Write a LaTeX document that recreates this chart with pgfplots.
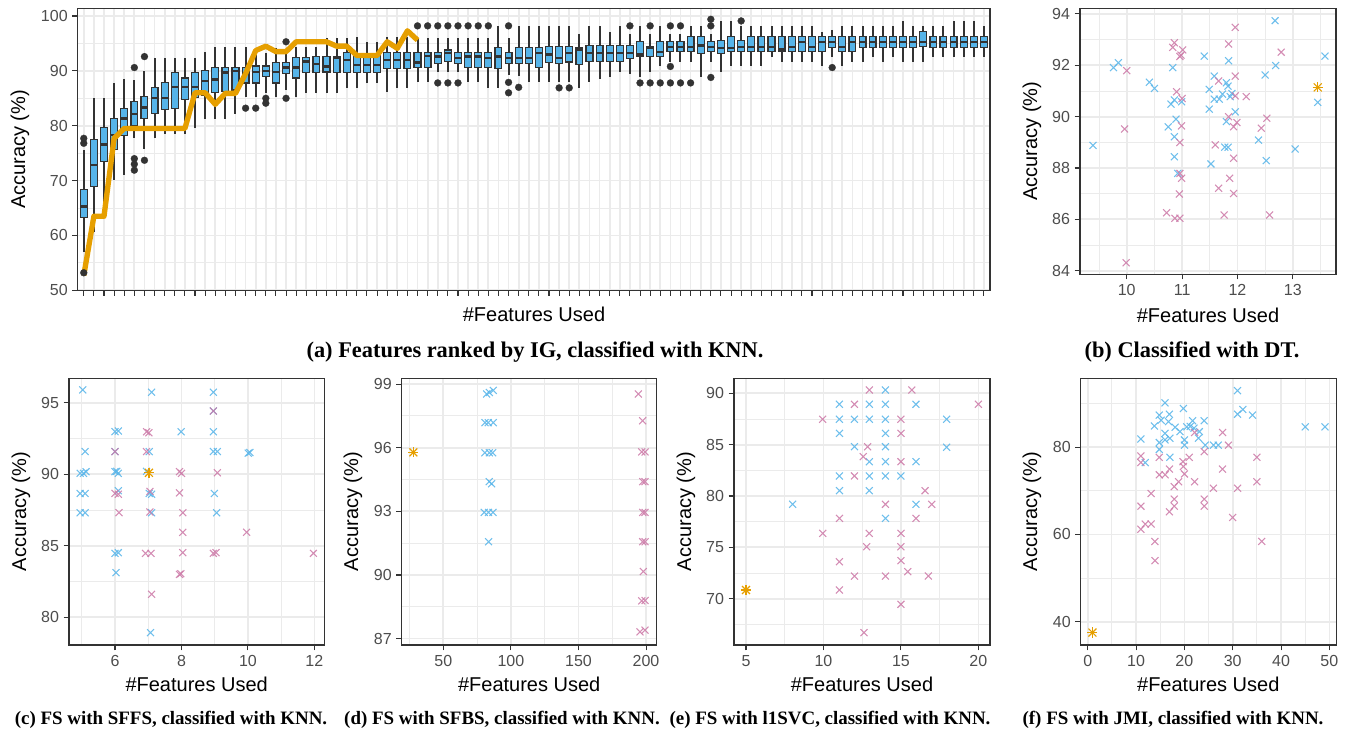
\documentclass[border=0pt]{standalone}
\usepackage{fontspec}
\setmainfont{Liberation Serif}
\setsansfont{Liberation Sans}
\usepackage{pgfplots}
\usepackage{pgfplotstable}
\pgfplotsset{compat=1.18}
\usepgfplotslibrary{statistics}
\definecolor{boxblue}{HTML}{56B4E9}
\definecolor{boxdark}{HTML}{333333}
\definecolor{gorange}{HTML}{E69F00}
\definecolor{gpink}{HTML}{CC79A7}
\definecolor{gridgray}{HTML}{EBEBEB}
\definecolor{ticklab}{HTML}{4D4D4D}

% ---------------- data ----------------
\pgfplotstableread{
x y
9.39 88.88
9.76 91.91
9.85 92.10
10.41 91.34
10.50 91.10
10.83 91.91
10.86 90.65
10.80 90.49
10.89 89.90
10.75 89.60
10.86 89.22
10.86 88.44
10.92 87.79
10.99 90.58
11.40 92.36
11.49 91.06
11.49 90.29
11.52 88.16
11.58 91.58
11.58 90.68
11.67 90.68
11.73 90.88
11.80 91.32
11.83 91.19
11.84 92.18
11.80 89.81
11.77 88.81
11.83 88.81
11.87 90.78
11.90 90.90
11.96 90.19
12.50 91.62
12.38 89.09
12.52 88.29
12.68 93.74
12.69 91.99
13.04 88.74
13.45 90.56
13.58 92.36
}\bblue
\pgfplotstableread{
x y
9.99 84.31
9.96 89.52
10.00 91.79
10.72 86.26
10.87 86.04
10.96 86.04
10.86 92.88
10.83 92.70
10.98 92.40
11.01 92.60
10.96 92.34
10.90 90.97
11.00 90.71
10.99 89.64
10.96 88.99
10.96 87.79
10.99 87.60
10.95 86.99
11.60 88.90
11.66 87.21
11.66 91.39
11.76 86.17
11.84 92.83
11.96 93.48
11.96 91.58
11.84 90.00
11.93 89.61
11.99 89.77
11.96 90.81
11.86 87.60
11.93 88.38
11.93 87.01
12.16 90.78
12.43 89.55
12.53 89.94
12.58 86.17
12.79 92.51
}\bpink
\pgfplotstableread{
x y
5.03 95.89
5.10 91.58
4.95 90.06
5.05 90.06
5.13 90.18
4.95 88.66
5.10 88.66
4.95 87.31
5.10 87.31
6.00 92.97
6.10 93.02
6.00 91.58
6.00 90.18
6.10 90.06
6.05 90.20
6.10 88.85
6.00 84.47
6.10 84.52
6.03 83.12
7.10 95.73
7.03 91.58
6.95 90.20
7.03 88.66
7.10 88.60
7.10 87.31
7.07 78.93
7.99 92.97
8.96 95.73
8.96 94.42
8.96 92.97
8.96 91.58
9.08 91.58
8.99 88.66
9.06 87.31
10.01 91.47
10.06 91.52
}\cblue
\pgfplotstableread{
x y
6.00 91.58
6.00 88.66
6.10 88.60
6.12 87.31
6.95 92.97
7.02 92.90
6.95 91.58
7.05 88.80
7.05 87.36
6.92 84.47
7.08 84.47
7.10 81.61
7.94 90.18
8.00 90.06
7.94 88.70
8.04 87.31
8.04 85.94
8.04 84.52
7.94 83.00
7.98 83.05
8.96 94.42
9.08 90.10
8.96 84.47
9.04 84.52
9.96 85.94
11.97 84.47
}\cpink
\pgfplotstableread{
x y
82.1 98.53
84.0 98.60
87.0 98.70
80.8 97.18
83.3 97.18
87.0 97.18
80.8 95.76
84.0 95.76
86.5 95.76
84.0 94.40
85.7 94.30
80.3 92.95
83.5 92.95
86.7 92.95
83.5 91.57
}\dblue
\pgfplotstableread{
x y
194.3 98.53
197.5 97.27
196.8 95.80
199.3 95.80
197.5 94.40
199.3 94.40
197.5 92.95
199.3 92.95
197.5 91.57
199.3 91.57
198.0 90.16
196.8 88.78
199.3 88.80
195.5 87.32
199.3 87.40
}\dpink
\pgfplotstableread{
x y
8.01 79.19
11.03 88.93
11.03 87.47
11.03 86.10
11.03 81.95
11.03 80.52
12.00 87.47
12.00 84.80
12.96 88.93
12.96 87.47
12.96 83.34
12.96 81.95
12.96 80.52
14.00 90.32
14.00 88.93
14.00 87.47
14.00 86.10
14.00 84.80
14.00 83.34
14.00 81.95
14.00 77.82
15.00 81.95
15.97 88.93
15.97 83.34
15.97 79.19
17.95 87.47
17.95 84.74
}\eblue
\pgfplotstableread{
x y
9.95 87.47
9.95 76.36
11.03 77.82
11.03 73.60
11.03 70.84
12.00 88.93
12.00 81.95
12.00 72.20
12.57 83.83
12.85 84.80
12.79 75.06
12.96 90.32
12.96 76.36
12.62 66.69
14.00 79.19
14.00 72.20
15.00 87.47
15.00 86.10
15.00 83.34
15.00 76.36
15.00 75.06
15.00 73.70
15.00 69.45
15.44 72.63
15.70 90.32
15.97 77.82
16.56 80.52
16.77 72.20
16.99 79.19
20.00 88.93
}\epink
\pgfplotstableread{
x y
11.0 81.9
11.9 76.5
13.8 84.9
14.8 87.4
14.8 81.1
14.8 79.5
15.2 86.2
16.0 90.2
16.0 83.2
16.0 81.7
16.7 85.9
16.9 87.6
17.0 82.1
17.0 77.7
18.1 84.6
19.1 83.6
19.8 88.9
20.0 81.7
20.0 80.5
20.5 84.7
21.2 84.8
21.7 86.1
22.0 84.4
22.9 82.1
23.1 83.6
24.1 86.1
24.3 80.5
26.0 80.5
27.0 80.5
31.0 93.0
31.0 87.6
32.1 88.7
34.1 87.4
45.0 84.7
49.1 84.7
}\fblue
\pgfplotstableread{
x y
11.0 78.0
11.0 76.5
11.0 66.5
11.0 61.2
11.9 62.4
13.1 62.4
13.1 69.4
13.9 58.4
13.9 54.0
14.8 77.7
14.8 73.7
16.0 73.7
16.9 75.0
16.9 65.2
17.9 71.0
17.9 68.1
17.9 66.5
18.8 72.1
19.7 76.7
19.8 75.6
20.0 73.9
21.0 77.7
22.1 72.1
22.1 83.4
24.1 79.0
24.1 68.1
24.1 66.5
26.0 70.6
27.9 83.4
27.9 75.0
29.1 80.5
30.0 63.9
31.0 70.6
35.0 77.7
35.0 72.1
36.0 58.4
}\fpink

\pgfplotsset{
  ggbase/.style={
    scale only axis, anchor=north west,
    axis line style={draw=boxdark, line width=0.8pt},
    tick style={draw=boxdark, line width=0.8pt},
    tick align=outside,
    xtick pos=bottom, ytick pos=left,
    major tick length=4pt, minor tick length=0pt,
    grid=both,
    major grid style={draw=gridgray, line width=1.3pt},
    minor grid style={draw=gridgray, line width=0.65pt},
    tick label style={font=\fontsize{12}{12}\selectfont\sffamily, text=ticklab},
    /pgf/number format/assume math mode=true,
    clip=true,
  },
  sc/.style={only marks, mark=x, mark size=3.7pt, line width=0.8pt, opacity=0.85},
  scb/.style={sc, color=boxblue},
  scp/.style={sc, color=gpink},
  boxst/.style={draw=boxdark, fill=boxblue, line width=0.9pt,
    mark=*, mark size=2.6pt, mark options={solid, fill=boxdark, draw=boxdark, line width=0.2pt},
    boxplot/draw direction=y,
    boxplot/box extend=0.68, boxplot/whisker extend=0,
    boxplot/every whisker/.style={line width=1.5pt},
    boxplot/every median/.style={line width=1.7pt}},
}
\newcommand{\bx}[7]{%
\addplot[boxst, boxplot prepared={draw position=#1, lower whisker=#2, lower quartile=#3, median=#4, upper quartile=#5, upper whisker=#6}] coordinates {#7};}
\newcommand{\startmark}[2]{%
\addplot[only marks, mark=x, mark size=4.2pt, line width=0.9pt, color=gorange] coordinates {(#1,#2)};
\addplot[only marks, mark=+, mark size=3.8pt, line width=0.9pt, color=gorange] coordinates {(#1,#2)};}

\newcommand{\axlab}{\fontsize{15}{15}\selectfont\sffamily}
\newcommand{\caplab}{\fontsize{14.2}{16}\selectfont\rmfamily\bfseries}
\newcommand{\caplabtop}{\fontsize{16.8}{18}\selectfont\rmfamily\bfseries}

\begin{document}
\begin{tikzpicture}
\path[use as bounding box] (0,0) rectangle (1013.25pt,-550.5pt);

% ---------------- (a) ----------------
\begin{axis}[ggbase, at={(58.28pt,-6.23pt)}, width=684.2pt, height=211.5pt,
  xmin=0.4, xmax=90.6, ymin=50, ymax=101.4,
  xtick={1,...,90}, xticklabels={},
  ytick={50,60,...,100}, minor ytick={55,65,...,95}]
\bx{1}{57.0}{63.2}{65.3}{68.4}{75.5}{(0,77.7)(0,76.8)(0,53.2)}
\bx{2}{60.6}{68.9}{72.8}{77.5}{85.0}{}
\bx{3}{66.0}{73.5}{76.6}{79.7}{85.0}{}
\bx{4}{70.1}{75.7}{78.3}{81.3}{87.8}{}
\bx{5}{71.1}{78.2}{81.3}{83.1}{88.6}{}
\bx{6}{77.7}{80.0}{82.2}{84.4}{88.3}{(0,90.6)(0,74.0)(0,73.0)(0,71.9)}
\bx{7}{75.7}{81.3}{83.3}{85.3}{90.0}{(0,92.6)(0,73.7)}
\bx{8}{77.7}{82.2}{85.0}{86.9}{92.4}{}
\bx{9}{78.5}{83.0}{85.0}{87.9}{92.4}{}
\bx{10}{78.5}{83.2}{87.0}{89.7}{92.4}{}
\bx{11}{78.5}{84.8}{87.0}{88.7}{92.4}{}
\bx{12}{79.5}{85.2}{87.0}{89.7}{92.4}{}
\bx{13}{81.3}{85.6}{88.2}{90.0}{93.4}{}
\bx{14}{81.3}{86.0}{88.4}{90.6}{94.3}{}
\bx{15}{81.3}{86.2}{89.7}{90.6}{94.3}{}
\bx{16}{82.2}{86.5}{90.0}{90.6}{94.3}{}
\bx{17}{85.2}{87.8}{89.5}{90.6}{94.3}{(0,83.2)}
\bx{18}{85.2}{87.8}{89.8}{90.9}{93.2}{(0,83.2)}
\bx{19}{85.9}{88.9}{90.0}{90.9}{93.2}{(0,85.0)(0,84.1)}
\bx{20}{85.2}{87.8}{89.8}{91.5}{94.1}{}
\bx{21}{86.5}{89.5}{90.6}{91.5}{93.2}{(0,95.3)(0,85.0)}
\bx{22}{85.2}{88.7}{90.6}{92.5}{94.4}{}
\bx{23}{86.0}{89.7}{91.7}{92.5}{94.4}{}
\bx{24}{85.9}{89.7}{91.2}{92.6}{94.4}{}
\bx{25}{85.9}{89.8}{90.8}{92.6}{96.0}{}
\bx{26}{85.9}{89.7}{92.3}{92.6}{96.0}{}
\bx{27}{86.9}{89.7}{92.0}{93.4}{96.0}{}
\bx{28}{86.9}{89.7}{91.1}{93.0}{96.2}{}
\bx{29}{87.7}{89.7}{91.1}{93.0}{95.3}{}
\bx{30}{87.7}{89.7}{91.1}{93.0}{95.3}{}
\bx{31}{86.1}{90.4}{92.0}{93.4}{96.2}{}
\bx{32}{86.9}{90.4}{92.0}{93.4}{96.2}{}
\bx{33}{86.9}{90.4}{92.0}{93.4}{96.2}{}
\bx{34}{88.0}{90.6}{91.5}{93.4}{96.0}{(0,98.2)}
\bx{35}{88.0}{90.6}{92.7}{93.4}{96.0}{(0,98.2)}
\bx{36}{89.7}{91.4}{92.6}{93.4}{96.0}{(0,98.2)(0,87.8)}
\bx{37}{89.7}{91.7}{93.2}{93.8}{96.0}{(0,98.2)(0,87.8)}
\bx{38}{89.7}{91.4}{92.4}{93.4}{96.0}{(0,98.2)(0,87.8)}
\bx{39}{88.0}{90.6}{92.6}{93.4}{96.0}{(0,98.2)}
\bx{40}{88.0}{90.6}{92.6}{93.4}{96.0}{(0,98.2)}
\bx{41}{86.9}{90.6}{92.4}{93.4}{96.0}{(0,98.2)}
\bx{42}{86.9}{90.4}{92.6}{94.3}{98.1}{}
\bx{43}{89.2}{91.4}{92.4}{93.4}{96.0}{(0,98.2)(0,87.9)(0,86.0)}
\bx{44}{89.0}{91.4}{92.3}{94.3}{98.1}{(0,87.0)}
\bx{45}{87.9}{91.4}{92.3}{94.3}{98.1}{}
\bx{46}{88.0}{90.6}{93.2}{94.3}{98.1}{}
\bx{47}{88.0}{91.5}{93.0}{94.4}{98.1}{}
\bx{48}{88.0}{91.3}{92.3}{94.4}{98.1}{(0,86.9)}
\bx{49}{88.0}{91.6}{93.2}{94.4}{98.1}{(0,86.9)}
\bx{50}{86.9}{91.2}{93.9}{94.3}{96.8}{}
\bx{51}{88.0}{91.7}{93.2}{94.6}{98.1}{}
\bx{52}{88.6}{91.7}{93.2}{94.6}{98.1}{}
\bx{53}{88.9}{91.7}{93.2}{94.6}{97.1}{}
\bx{54}{89.8}{91.7}{93.2}{94.6}{98.1}{}
\bx{55}{89.5}{92.3}{93.2}{94.6}{96.8}{(0,98.2)}
\bx{56}{88.9}{92.6}{93.0}{95.3}{98.1}{(0,87.8)}
\bx{57}{89.8}{92.6}{94.1}{94.4}{96.8}{(0,98.2)(0,87.8)}
\bx{58}{90.8}{92.6}{93.5}{95.3}{98.1}{(0,87.8)}
\bx{59}{91.7}{93.5}{94.4}{95.3}{96.8}{(0,98.2)(0,90.8)(0,87.8)}
\bx{60}{91.7}{93.5}{94.4}{95.3}{96.8}{(0,98.2)(0,87.8)}
\bx{61}{91.7}{93.5}{94.4}{96.2}{98.1}{(0,87.8)}
\bx{62}{88.9}{93.2}{94.6}{96.2}{98.1}{}
\bx{63}{91.7}{93.5}{94.4}{95.3}{96.8}{(0,99.4)(0,98.2)(0,88.8)}
\bx{64}{89.8}{93.2}{94.1}{95.6}{99.0}{}
\bx{65}{90.8}{93.5}{94.1}{96.2}{99.0}{}
\bx{66}{90.8}{93.5}{94.4}{95.6}{98.1}{(0,99.1)}
\bx{67}{90.8}{93.5}{94.4}{96.2}{98.1}{}
\bx{68}{90.8}{93.5}{94.4}{96.2}{98.1}{}
\bx{69}{92.6}{93.5}{94.4}{96.2}{98.1}{}
\bx{70}{91.7}{93.5}{93.9}{96.2}{98.1}{}
\bx{71}{91.7}{93.5}{94.4}{96.2}{98.1}{}
\bx{72}{91.7}{93.5}{95.3}{96.2}{98.1}{}
\bx{73}{91.7}{93.5}{94.4}{96.2}{98.1}{}
\bx{74}{90.8}{93.5}{95.3}{96.2}{97.1}{}
\bx{75}{92.6}{94.3}{95.3}{96.2}{97.5}{(0,90.6)}
\bx{76}{90.8}{93.5}{94.4}{96.2}{98.1}{}
\bx{77}{91.7}{93.5}{95.3}{96.2}{98.1}{}
\bx{78}{91.7}{94.3}{95.3}{96.2}{98.1}{}
\bx{79}{92.6}{94.3}{95.3}{96.2}{98.1}{}
\bx{80}{91.7}{94.3}{95.3}{96.2}{98.1}{}
\bx{81}{92.6}{94.3}{95.3}{96.2}{98.1}{}
\bx{82}{91.7}{94.3}{95.3}{96.2}{99.0}{}
\bx{83}{91.7}{94.3}{95.3}{96.2}{98.1}{}
\bx{84}{91.7}{94.4}{95.3}{97.1}{98.1}{}
\bx{85}{92.6}{94.3}{95.3}{96.2}{98.1}{}
\bx{86}{92.6}{94.3}{95.3}{96.2}{98.1}{}
\bx{87}{92.6}{94.3}{95.3}{96.2}{99.0}{}
\bx{88}{92.6}{94.3}{95.3}{96.2}{99.0}{}
\bx{89}{92.6}{94.3}{95.3}{96.2}{99.0}{}
\bx{90}{92.6}{94.3}{95.3}{96.2}{98.1}{}
\addplot[color=gorange, line width=4pt, line join=round, line cap=butt] coordinates {
(1,52.7)(2,63.5)(3,63.5)(4,77.7)(5,79.5)(6,79.5)(7,79.5)(8,79.5)(9,79.5)(10,79.5)(11,79.5)
(12,86.0)(13,86.0)(14,83.9)(15,85.9)(16,85.9)(17,89.5)(18,93.7)(19,94.5)(20,93.5)(21,93.5)
(22,95.3)(23,95.3)(24,95.3)(25,95.3)(26,94.5)(27,94.5)(28,92.8)(29,92.8)(30,92.8)(31,95.3)
(32,94.1)(33,97.3)(34,95.6)};
\end{axis}

% ---------------- (b) ----------------
\begin{axis}[ggbase, at={(810pt,-6.23pt)}, width=192pt, height=199.3pt,
  xmin=9.156, xmax=13.78, ymin=83.87, ymax=94.22,
  xtick={10,11,12,13}, minor xtick={9.5,10.5,11.5,12.5,13.5},
  ytick={84,86,...,94}, minor ytick={85,87,...,93}]
\addplot[scb] table {\bblue};
\addplot[scp] table {\bpink};
\startmark{13.45}{91.14}
\end{axis}

% ---------------- (c) ----------------
\begin{axis}[ggbase, at={(51.75pt,-283.73pt)}, width=191.5pt, height=200pt,
  xmin=4.615, xmax=12.30, ymin=78.07, ymax=96.70,
  xtick={6,8,10,12}, minor xtick={5,7,9,11},
  ytick={80,85,90,95}, minor ytick={82.5,87.5,92.5}]
\addplot[scb] table {\cblue};
\addplot[scp] table {\cpink};
\startmark{7.02}{90.1}
\end{axis}

% ---------------- (d) ----------------
\begin{axis}[ggbase, at={(301.28pt,-283.73pt)}, width=191.25pt, height=200pt,
  xmin=19.2, xmax=207.9, ymin=86.70, ymax=99.27,
  xtick={50,100,150,200}, minor xtick={25,75,125,175},
  ytick={87,90,93,96,99}, minor ytick={88.5,91.5,94.5,97.5}]
\addplot[scb] table {\dblue};
\addplot[scp] table {\dpink};
\startmark{27.8}{95.78}
\end{axis}

% ---------------- (e) ----------------
\begin{axis}[ggbase, at={(550.5pt,-283.73pt)}, width=192pt, height=200pt,
  xmin=4.225, xmax=20.75, ymin=65.49, ymax=91.46,
  xtick={5,10,15,20}, minor xtick={7.5,12.5,17.5},
  ytick={70,75,80,85,90}, minor ytick={67.5,72.5,77.5,82.5,87.5}]
\addplot[scb] table {\eblue};
\addplot[scp] table {\epink};
\startmark{5}{70.84}
\end{axis}

% ---------------- (f) ----------------
\begin{axis}[ggbase, at={(810.53pt,-283.73pt)}, width=191.5pt, height=200pt,
  xmin=-1.45, xmax=51.38, ymin=34.65, ymax=95.83,
  xtick={0,10,...,50}, minor xtick={5,15,...,45},
  ytick={40,60,80}, minor ytick={50,70,90}]
\addplot[scb] table {\fblue};
\addplot[scp] table {\fpink};
\startmark{0.97}{37.5}
\end{axis}

% ---------------- labels ----------------
\node[font=\axlab] at (400.5pt,-235.5pt) {\#Features Used};
\node[font=\axlab] at (906pt,-236.25pt) {\#Features Used};
\node[font=\axlab] at (147.5pt,-513pt) {\#Features Used};
\node[font=\axlab] at (396.9pt,-513pt) {\#Features Used};
\node[font=\axlab] at (646.5pt,-513pt) {\#Features Used};
\node[font=\axlab] at (906.2pt,-513pt) {\#Features Used};

\node[font=\axlab, rotate=90] at (15pt,-112pt) {Accuracy (\%)};
\node[font=\axlab, rotate=90] at (774pt,-105.9pt) {Accuracy (\%)};
\node[font=\axlab, rotate=90] at (15.75pt,-383.7pt) {Accuracy (\%)};
\node[font=\axlab, rotate=90] at (264.75pt,-383.7pt) {Accuracy (\%)};
\node[font=\axlab, rotate=90] at (514.5pt,-383.7pt) {Accuracy (\%)};
\node[font=\axlab, rotate=90] at (774pt,-383.7pt) {Accuracy (\%)};

\node[font=\caplabtop] at (401.25pt,-264pt) {(a) Features ranked by IG, classified with KNN.};
\node[font=\caplabtop] at (894pt,-264pt) {(b) Classified with DT.};
\node[font=\caplab] at (128.25pt,-540pt) {(c) FS with SFFS, classified with KNN.};
\node[font=\caplab] at (376.5pt,-540pt) {(d) FS with SFBS, classified with KNN.};
\node[font=\caplab] at (622.5pt,-540pt) {(e) FS with l1SVC, classified with KNN.};
\node[font=\caplab] at (879.75pt,-540pt) {(f) FS with JMI, classified with KNN.};
\end{tikzpicture}
\end{document}
